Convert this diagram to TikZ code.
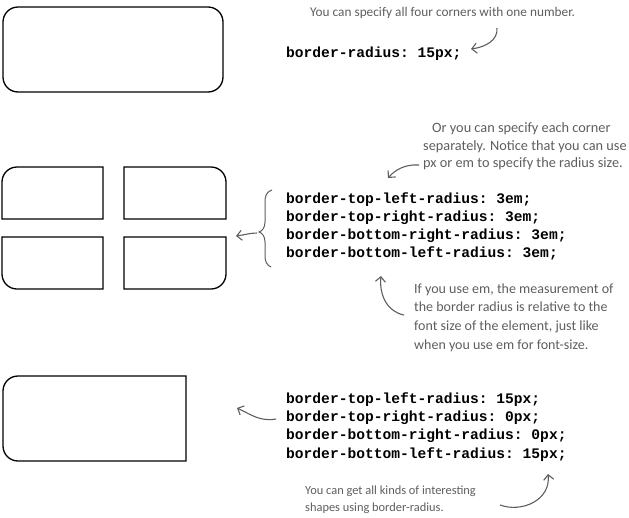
\documentclass[tikz,border=0pt]{standalone}
\usepackage{fontspec}
\setmainfont{Carlito}
\setmonofont{Liberation Mono}
\usetikzlibrary{arrows.meta}
\definecolor{note}{HTML}{5E5E5E}
\tikzset{
  boxline/.style={draw=black, line width=1.3pt},
  code/.style={anchor=base west, inner sep=0pt, font=\ttfamily\bfseries\fontsize{14.6}{18}\selectfont},
  notetext/.style={anchor=base west, inner sep=0pt, text=note},
  notearrow/.style={draw=note, line width=1.1pt, -{Straight Barb[length=5pt,width=10pt]}},
  brace/.style={draw=note, line width=1pt}
}
\newcommand\cornerbox[8]{%
  \draw[boxline] ({#1+#5},#2) -- ({#3-#6},#2)
    .. controls ({#3-0.448*#6},#2) and (#3,{#2+0.448*#6}) .. (#3,{#2+#6})
    -- (#3,{#4-#7})
    .. controls (#3,{#4-0.448*#7}) and ({#3-0.448*#7},#4) .. ({#3-#7},#4)
    -- ({#1+#8},#4)
    .. controls ({#1+0.448*#8},#4) and (#1,{#4-0.448*#8}) .. (#1,{#4-#8})
    -- (#1,{#2+#5})
    .. controls (#1,{#2+0.448*#5}) and ({#1+0.448*#5},#2) .. ({#1+#5},#2) -- cycle;}
\begin{document}
\begin{tikzpicture}[x=1pt,y=-1pt]
\useasboundingbox (0,0) rectangle (629,517);
% boxes
\cornerbox{3}{7}{223}{92}{15}{15}{15}{15}
\cornerbox{2}{167}{103}{219}{15}{0}{0}{0}
\cornerbox{124}{167}{226}{219}{0}{15}{0}{0}
\cornerbox{124}{237}{226}{289}{0}{0}{15}{0}
\cornerbox{2}{237}{103}{289}{0}{0}{0}{15}
\cornerbox{3}{376}{186}{461}{15}{0}{0}{15}
% section 1
\node[notetext, font=\fontsize{13.3}{18}\selectfont] (n1) at (310,16) {You can specify all four corners with one number.};
\node[code] (c1) at (286,57) {border-radius: 15px;};
\coordinate (a1s) at (497,28);
\coordinate (a1e) at (471,49);
\draw[notearrow] (a1s) .. controls (498,40) and (486,47) .. (a1e);
% section 2
\begin{scope}[every node/.append style={font=\fontsize{14.3}{18}\selectfont}]
\node[notetext] (n2a) at (432,132) {Or you can specify each corner};
\node[notetext] (n2b) at (423,150) {separately. Notice that you can use};
\node[notetext] (n2c) at (423,167) {px or em to specify the radius size.};
\end{scope}
\coordinate (a2s) at (419,165);
\coordinate (a2e) at (388,178);
\draw[notearrow] (a2s) .. controls (405,164) and (395,170) .. (a2e);
\node[code] (c2a) at (286,203) {border-top-left-radius: 3em;};
\node[code] (c2b) at (286,221) {border-top-right-radius: 3em;};
\node[code] (c2c) at (286,239) {border-bottom-right-radius: 3em;};
\node[code] (c2d) at (286,257) {border-bottom-left-radius: 3em;};
\draw[brace] (272,190) .. controls (266,192) and (265,196) .. (265,203)
  -- (265,222) .. controls (265,228) and (262,231) .. (259,232)
  .. controls (262,233) and (265,236) .. (265,242)
  -- (265,256) .. controls (265,262) and (267,265) .. (271,267);
\coordinate (a3s) at (257,233);
\coordinate (a3e) at (236,236);
\draw[notearrow] (a3s) .. controls (250,233) and (244,235) .. (a3e);
% section 3
\begin{scope}[every node/.append style={font=\fontsize{14}{18}\selectfont}]
\node[notetext] (n3a) at (414,293) {If you use em, the measurement of};
\node[notetext] (n3b) at (414,311) {the border radius is relative to the};
\node[notetext] (n3c) at (414,330) {font size of the element, just like};
\node[notetext] (n3d) at (414,349) {when you use em for font-size.};
\end{scope}
\coordinate (a4s) at (404,315);
\coordinate (a4e) at (381,276);
\draw[notearrow] (a4s) .. controls (388,312) and (379,296) .. (a4e);
% section 4
\node[code] (c4a) at (286,403) {border-top-left-radius: 15px;};
\node[code] (c4b) at (286,421) {border-top-right-radius: 0px;};
\node[code] (c4c) at (286,439) {border-bottom-right-radius: 0px;};
\node[code] (c4d) at (286,458) {border-bottom-left-radius: 15px;};
\coordinate (a5s) at (276,419);
\coordinate (a5e) at (237,408);
\draw[notearrow] (a5s) .. controls (260,422) and (250,414) .. (a5e);
\begin{scope}[every node/.append style={font=\fontsize{12.4}{18}\selectfont}]
\node[notetext] (n4a) at (305,494) {You can get all kinds of interesting};
\node[notetext] (n4b) at (305,511) {shapes using border-radius.};
\end{scope}
\coordinate (a6s) at (500,505);
\coordinate (a6e) at (548,474);
\draw[notearrow] (a6s) .. controls (522,513) and (551,500) .. (a6e);
\end{tikzpicture}
\end{document}
